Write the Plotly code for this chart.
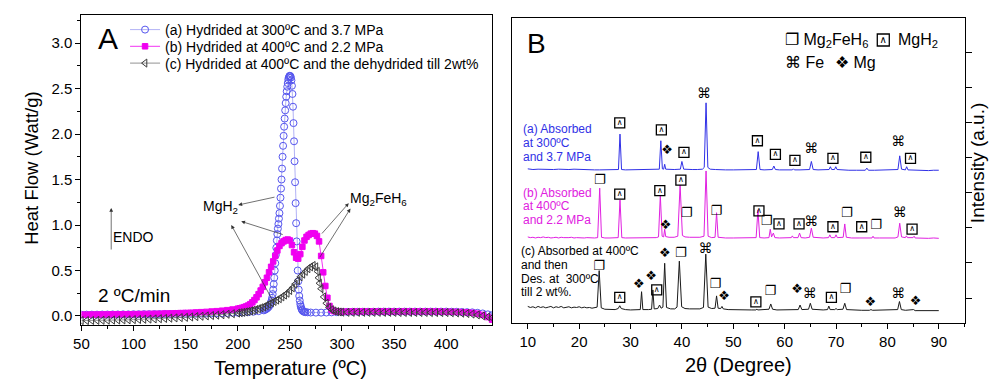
import plotly.graph_objects as go

W, H = 993, 380
FONT = "Liberation Sans, Arial, sans-serif"
SYMF = "DejaVu Sans, sans-serif"

# ---------------- Panel A : DSC (temperature, heat flow) ----------------
dsc_a = [(50,0.015),(55,0.015),(60,0.015),(65,0.015),(70,0.016),(75,0.016),(80,0.017),(85,0.017),(90,0.018),(95,0.018),
         (100,0.019),(105,0.019),(110,0.020),(115,0.020),(120,0.021),(125,0.021),(130,0.022),(135,0.022),(140,0.023),(145,0.023),
         (150,0.024),(155,0.025),(160,0.026),(165,0.027),(170,0.028),(175,0.029),(180,0.030),(185,0.031),(190,0.033),(195,0.035),
         (200,0.037),(205,0.040),(210,0.043),(215,0.047),(220,0.053),(225,0.062),(226,0.068),(227,0.074),(228,0.082),(229,0.092),
         (230,0.105),(231,0.125),(232,0.15),(232.5,0.17),(233,0.20),(233.5,0.24),(234,0.29),(234.5,0.35),(235,0.42),(235.5,0.50),
         (236,0.58),(236.5,0.67),(237,0.75),(237.5,0.83),(238,0.90),(238.5,0.96),(239,1.01),(239.5,1.07),(240,1.13),(240.5,1.21),
         (241,1.30),(241.5,1.40),(242,1.50),(242.5,1.62),(243,1.75),(243.5,1.87),(244,1.98),(244.5,2.08),(245,2.17),(245.5,2.26),
         (246,2.34),(246.5,2.41),(247,2.47),(247.5,2.52),(248,2.56),(248.5,2.60),(249,2.62),(249.5,2.635),(250,2.64),(250.5,2.635),
         (251,2.62),(251.5,2.59),(252,2.53),(252.5,2.44),(253,2.30),(253.5,2.12),(254,1.92),(254.5,1.70),(255,1.47),(255.5,1.24),
         (256,1.02),(256.5,0.82),(257,0.65),(257.5,0.50),(258,0.38),(258.5,0.29),(259,0.22),(259.5,0.17),(260,0.13),(260.5,0.105),
         (261,0.085),(261.5,0.07),(262,0.06),(263,0.05),(264,0.045),(265,0.042),(267,0.040),(270,0.038),(275,0.037),(280,0.037),
         (285,0.038),(290,0.040),(295,0.042),(300,0.044),(305,0.045),(310,0.046),(315,0.046),(320,0.047),(325,0.047),(330,0.047),
         (335,0.048),(340,0.048),(345,0.048),(350,0.048),(355,0.048),(360,0.048),(365,0.048),(370,0.048),(375,0.048),(380,0.048),
         (385,0.048),(390,0.048),(395,0.048),(400,0.048),(405,0.047),(410,0.046),(415,0.044),(420,0.042),(425,0.040),(430,0.035),
         (435,0.028),(440,0.018),(444,0.008)]

dsc_b = [(50,0.015),(55,0.015),(60,0.016),(65,0.016),(70,0.017),(75,0.017),(80,0.018),(85,0.018),(90,0.019),(95,0.019),
         (100,0.020),(105,0.021),(110,0.022),(115,0.023),(120,0.024),(125,0.025),(130,0.027),(135,0.028),(140,0.030),(145,0.032),
         (150,0.034),(155,0.036),(160,0.039),(165,0.042),(170,0.045),(175,0.049),(180,0.053),(185,0.058),(190,0.064),(195,0.071),
         (200,0.080),(202,0.085),(204,0.090),(206,0.097),(208,0.105),(210,0.115),(212,0.13),(214,0.15),(216,0.175),(218,0.205),
         (220,0.24),(222,0.28),(224,0.32),(226,0.37),(228,0.42),(230,0.48),(232,0.54),(234,0.60),(236,0.66),(238,0.72),
         (240,0.77),(242,0.80),(244,0.82),(246,0.835),(248,0.84),(250,0.83),(252,0.78),(254,0.70),(256,0.64),(258,0.63),
         (260,0.68),(262,0.76),(264,0.83),(266,0.87),(268,0.89),(270,0.905),(272,0.91),(274,0.905),(276,0.88),(278,0.82),
         (280,0.66),(282,0.48),(284,0.33),(286,0.20),(288,0.11),(290,0.07),(292,0.055),(294,0.050),(296,0.048),(298,0.047),
         (300,0.047),(305,0.048),(310,0.049),(315,0.049),(320,0.050),(325,0.050),(330,0.050),(335,0.050),(340,0.050),(345,0.050),
         (350,0.050),(355,0.050),(360,0.050),(365,0.050),(370,0.050),(375,0.050),(380,0.050),(385,0.049),(390,0.049),(395,0.048),
         (400,0.047),(405,0.046),(410,0.045),(415,0.043),(420,0.040),(425,0.035),(430,0.026),(435,0.012),(440,-0.012),(444,-0.040)]

dsc_c = [(50,-0.050),(55,-0.050),(60,-0.049),(65,-0.048),(70,-0.047),(75,-0.046),(80,-0.045),(85,-0.044),(90,-0.043),(95,-0.042),
         (100,-0.040),(105,-0.038),(110,-0.036),(115,-0.034),(120,-0.032),(125,-0.030),(130,-0.027),(135,-0.024),(140,-0.021),(145,-0.018),
         (150,-0.015),(155,-0.011),(160,-0.007),(165,-0.003),(170,0.001),(175,0.005),(180,0.009),(185,0.014),(190,0.019),(195,0.025),
         (200,0.032),(202.5,0.036),(205,0.040),(207.5,0.045),(210,0.050),(212.5,0.056),(215,0.063),(217.5,0.071),(220,0.080),(222.5,0.090),
         (225,0.100),(227.5,0.115),(230,0.130),(232.5,0.145),(235,0.160),(237.5,0.175),(240,0.190),(242.5,0.210),(245,0.230),(247.5,0.250),
         (250,0.280),(252.5,0.310),(255,0.350),(257.5,0.390),(260,0.430),(262.5,0.460),(265,0.490),(267.5,0.520),(270,0.540),(272.5,0.555),
         (275,0.540),(276.5,0.490),(277.5,0.420),(278.5,0.360),(280,0.300),(282.5,0.210),(285,0.140),(287.5,0.095),(290,0.070),(292.5,0.055),
         (295,0.048),(297.5,0.044),(300,0.042),(305,0.040),(310,0.040),(315,0.040),(320,0.040),(325,0.040),(330,0.040),(335,0.040),
         (340,0.040),(345,0.040),(350,0.040),(355,0.039),(360,0.039),(365,0.039),(370,0.039),(375,0.039),(380,0.039),(385,0.038),
         (390,0.038),(395,0.038),(400,0.038),(405,0.036),(410,0.034),(415,0.031),(420,0.027),(425,0.021),(430,0.012),(435,0.002),
         (440,-0.010),(444,-0.020)]

legend_a = "(a) Hydrided at 300ºC and 3.7 MPa"
legend_b = "(b) Hydrided at 400ºC and 2.2 MPa"
legend_c = "(c) Hydrided at 400ºC and the dehydrided till 2wt%"

# ---------------- Panel B : XRD (2theta, intensity a.u.) ----------------
xrd_a = [(10.0,4.68),(11,4.66),(12,4.67),(13,4.66),(14,4.67),(15,4.66),(16,4.67),(17,4.66),(18,4.66),(19,4.67),
         (20,4.66),(21,4.65),(22,4.66),(23,4.65),(24,4.65),(25,4.65),(26,4.65),(27,4.65),(27.65,4.66),(27.95,5.67),
         (28.25,4.66),(29,4.65),(30,4.65),(31,4.65),(32,4.65),(33,4.65),(34,4.65),(35,4.66),(35.6,4.67),(35.9,5.48),
         (36.2,4.68),(36.45,4.67),(36.65,4.81),(36.85,4.67),(37.5,4.66),(38.5,4.66),(39.7,4.67),(40.0,4.89),(40.35,4.67),(41,4.66),
         (42,4.66),(43,4.66),(44,4.67),(44.35,4.72),(44.7,6.56),(45.05,4.72),(45.5,4.67),(46.5,4.66),(47.5,4.65),(48.5,4.65),
         (50,4.65),(51.5,4.65),(53,4.65),(54.5,4.66),(54.85,5.17),(55.2,4.66),(56,4.65),(57.6,4.66),(57.9,4.76),(58.2,4.66),
         (59,4.65),(60.5,4.65),(61.5,4.65),(61.7,4.68),(61.9,4.65),(63,4.65),(64,4.65),(64.85,4.66),(65.2,4.89),(65.55,4.66),
         (66.5,4.65),(67.5,4.65),(68.65,4.66),(68.9,4.74),(69.15,4.66),(69.7,4.66),(69.95,4.74),(70.2,4.66),(71,4.65),(72.5,4.64),
         (74,4.64),(75.7,4.64),(76.0,4.70),(76.3,4.64),(77.5,4.64),(79,4.64),(80.5,4.64),(81.5,4.64),(82.05,4.66),(82.4,5.05),
         (82.75,4.67),(83.5,4.65),(83.75,4.74),(84.0,4.65),(85,4.64),(86,4.64),(87,4.64),(88,4.63),(89,4.64),(90,4.64)]

xrd_b = [(10.0,2.74),(10.5,2.72),(11,2.73),(11.5,2.71),(12,2.73),(12.5,2.72),(13,2.74),(13.5,2.72),(14,2.73),(14.5,2.71),
         (15,2.72),(15.5,2.73),(16,2.71),(16.5,2.73),(17,2.72),(17.5,2.71),(18,2.72),(18.5,2.73),(19,2.71),(19.5,2.72),
         (20,2.71),(20.5,2.72),(21,2.71),(21.5,2.72),(22,2.71),(22.5,2.71),(23,2.71),(23.6,2.72),(24.0,4.13),(24.35,2.73),
         (25,2.71),(26,2.71),(27,2.71),(27.6,2.72),(27.95,3.79),(28.3,2.72),(29,2.71),(30,2.71),(31,2.71),(32,2.71),
         (33,2.71),(34,2.72),(35,2.72),(35.45,2.74),(35.8,3.93),(36.15,2.76),(36.45,2.74),(36.65,2.96),(36.85,2.75),(37.5,2.73),
         (38.5,2.73),(39.2,2.76),(39.65,4.22),(40.1,2.78),(40.6,2.74),(41.5,2.73),(42.5,2.73),(43.5,2.73),(44.3,2.76),(44.7,4.62),
         (45.1,2.76),(45.8,2.72),(46.45,2.73),(46.75,3.43),(47.05,2.73),(47.6,2.72),(48.5,2.71),(50,2.71),(51.5,2.71),(53,2.71),
         (54.45,2.72),(54.8,3.51),(55.15,2.72),(56,2.71),(56.95,2.72),(57.2,2.96),(57.45,2.74),(57.8,2.85),(58.1,2.72),(59,2.71),
         (60.5,2.71),(61.3,2.72),(61.5,2.77),(61.7,2.72),(62.6,2.72),(62.9,2.85),(63.2,2.72),(64,2.71),(64.85,2.73),(65.2,2.99),
         (65.55,2.73),(66.5,2.71),(67.5,2.71),(68.55,2.72),(68.8,2.80),(69.05,2.72),(69.75,2.72),(70.0,2.80),(70.25,2.72),(71.4,2.73),
         (71.7,3.11),(72.0,2.73),(73,2.71),(74.5,2.71),(75.8,2.71),(76.0,2.73),(76.2,2.71),(77.0,2.71),(77.2,2.76),(77.4,2.71),
         (78.5,2.71),(80,2.71),(81.5,2.71),(82.05,2.74),(82.4,3.13),(82.75,2.74),(83.5,2.72),(83.7,2.77),(83.9,2.72),(85.0,2.72),
         (85.2,2.76),(85.4,2.71),(86.5,2.70),(88,2.70),(89,2.71),(90,2.70)]

xrd_c = [(10.0,0.76),(10.5,0.73),(11,0.75),(11.5,0.72),(12,0.76),(12.5,0.73),(13,0.75),(13.5,0.72),(14,0.74),(14.5,0.76),
         (15,0.72),(15.5,0.75),(16,0.73),(16.5,0.76),(17,0.72),(17.5,0.74),(18,0.75),(18.5,0.72),(19,0.74),(19.5,0.73),
         (20,0.75),(20.5,0.72),(21,0.74),(21.5,0.72),(22,0.73),(22.5,0.71),(23.0,0.72),(23.5,0.74),(23.9,1.78),(24.3,0.72),
         (25,0.68),(26,0.67),(27,0.67),(27.6,0.70),(27.9,0.78),(28.2,0.70),(29,0.67),(30,0.66),(31,0.66),(31.9,0.67),
         (32.15,1.18),(32.4,0.67),(33.5,0.67),(34.1,0.68),(34.35,1.23),(34.6,0.69),(35.3,0.70),(35.65,0.80),(35.95,0.71),(36.3,0.74),
         (36.65,1.99),(37.0,0.73),(37.8,0.69),(38.6,0.69),(39.05,0.74),(39.5,2.05),(39.95,0.75),(40.6,0.70),(41.5,0.69),(42.5,0.69),
         (43.5,0.69),(44.2,0.73),(44.65,2.25),(45.1,0.74),(45.8,0.70),(46.45,0.71),(46.75,1.06),(47.05,0.71),(47.55,0.70),(47.8,0.76),
         (48.05,0.69),(49,0.67),(50.5,0.66),(52,0.66),(53.5,0.66),(54.4,0.66),(54.6,0.68),(54.8,0.66),(56,0.66),(56.95,0.68),
         (57.3,0.83),(57.65,0.68),(58.5,0.66),(60,0.66),(61.5,0.66),(62.65,0.67),(63.0,0.80),(63.35,0.67),(64.65,0.68),(65.0,0.85),
         (65.35,0.68),(66.5,0.66),(67.5,0.66),(68.35,0.67),(68.6,0.77),(68.85,0.67),(69.75,0.67),(70.0,0.70),(70.25,0.67),(71.35,0.68),
         (71.7,0.85),(72.05,0.67),(73.5,0.65),(75,0.65),(76.5,0.65),(76.8,0.67),(77.1,0.65),(78.5,0.65),(80,0.65),(81.5,0.65),
         (82.0,0.67),(82.35,0.90),(82.7,0.67),(83.5,0.65),(84.8,0.65),(85.1,0.67),(85.4,0.64),(86.5,0.64),(88,0.64),(89,0.63),(90,0.64)]

# phase marker positions (2theta, intensity) for each phase symbol
mark_mg2feh6 = [(24.0,4.33),(40.9,3.41),(46.7,3.46),(56.5,3.17),(72.1,3.41),(77.8,3.05),
                (23.9,1.90),(39.8,2.25),(46.5,1.37),(57.2,1.18),(71.8,1.23)]
mark_mgh2 = [(27.9,5.99),(36.0,5.79),(40.4,5.15),(54.7,5.48),(58.2,5.09),(62.0,4.92),(69.4,4.98),(75.8,5.01),(84.5,4.98),
             (27.9,3.96),(35.7,4.06),(39.8,4.36),(55.0,3.48),(58.9,3.11),(62.8,3.11),(69.4,3.03),(75.0,3.03),(84.8,2.96),
             (27.9,1.02),(35.1,1.23),(54.4,0.89),(69.1,1.02)]
mark_fe = [(44.3,6.80),(65.2,5.22),(82.1,5.42),(65.2,3.16),(82.4,3.41),(44.6,2.39),(64.9,1.11),(82.1,1.09)]
mark_mg = [(37.1,5.20),(36.8,3.05),(31.6,1.37),(34.0,1.61),(36.7,2.25),(48.2,1.04),(62.4,1.23),(76.7,0.87),(85.5,0.89)]
key_mgh2 = [(79.2,8.35)]   # legend key of the MgH2 symbol in panel B

SYM_MG2FEH6, SYM_CARET, SYM_FE, SYM_MG = "❐", "∧", "⌘", "❖"

C_A, C_A_LINE = "#5555ee", "#9d9df2"
C_B = "#f000f0"
C_C = "#3a3a3a"
X_A, X_B, X_C = "#3030e6", "#e020e0", "#1a1a1a"


def px(xp):
    return xp / W


def py(yp):
    return 1 - yp / H


fig = go.Figure()

for data, name, color, lcolor, sym, leg, size in [
    (dsc_a, legend_a, C_A, C_A_LINE, "circle-open", "legend", 7),
    (dsc_b, legend_b, C_B, C_B, "square", "legend2", 5.5),
    (dsc_c, legend_c, C_C, "#777777", "triangle-left-open", "legend3", 7),
]:
    t, v = zip(*data)
    fig.add_trace(go.Scatter(
        x=list(t), y=list(v), mode="lines+markers", name=name, legend=leg,
        line=dict(color=lcolor, width=0.8),
        marker=dict(symbol=sym, size=size, color=color, line=dict(color=color, width=1)),
        xaxis="x", yaxis="y"))

for data, color in [(xrd_a, X_A), (xrd_b, X_B), (xrd_c, X_C)]:
    t, v = zip(*data)
    fig.add_trace(go.Scatter(x=list(t), y=list(v), mode="lines", showlegend=False,
                             line=dict(color=color, width=1), xaxis="x2", yaxis="y2"))

# MgH2 labels: open box with a caret inside
for pts, msize, fsize in ((mark_mgh2, 10, 8), (key_mgh2, 12, 10)):
    t, v = zip(*pts)
    fig.add_trace(go.Scatter(x=list(t), y=list(v), mode="markers+text", text=[SYM_CARET] * len(t),
                             textposition="middle center", showlegend=False, hoverinfo="skip",
                             marker=dict(symbol="square-open", size=msize,
                                         color="black", line=dict(color="black", width=1.3)),
                             textfont=dict(size=fsize, color="black", family=SYMF),
                             xaxis="x2", yaxis="y2"))

for pts, sym, fs in [(mark_mg2feh6, SYM_MG2FEH6, 13), (mark_fe, SYM_FE, 14), (mark_mg, SYM_MG, 13)]:
    t, v = zip(*pts)
    fig.add_trace(go.Scatter(x=list(t), y=list(v), mode="text", text=[sym] * len(t),
                             textposition="middle center", showlegend=False, hoverinfo="skip",
                             textfont=dict(size=fs, color="black", family=SYMF),
                             xaxis="x2", yaxis="y2"))

axis_common = dict(showgrid=False, zeroline=False, showline=True, linecolor="black", linewidth=1,
                   tickcolor="black", tickwidth=1, tickfont=dict(size=15, family=FONT, color="black"))

YR_A = [-0.099, 3.308]
fig.update_layout(
    width=W, height=H, margin=dict(l=0, r=0, t=0, b=0),
    paper_bgcolor="white", plot_bgcolor="white",
    font=dict(family=FONT, color="black"),
    xaxis=dict(domain=[px(74), px(488)], range=[50, 444], anchor="y", tick0=50, dtick=50,
               ticks="outside", ticklen=5, mirror=True,
               minor=dict(ticks="outside", ticklen=3, tick0=50, dtick=25, tickcolor="black"), **axis_common),
    yaxis=dict(domain=[py(325), py(15)], range=YR_A, anchor="x", tick0=0, dtick=0.5, tickformat=".1f",
               ticks="outside", ticklen=5, mirror=True,
               minor=dict(ticks="outside", ticklen=3, tick0=0, dtick=0.25, tickcolor="black"), **axis_common),
    yaxis3=dict(overlaying="y", anchor="x", side="right", range=YR_A, tick0=0, dtick=0.5,
                ticks="inside", ticklen=5, showticklabels=False, showgrid=False, zeroline=False,
                showline=False, tickcolor="black",
                minor=dict(ticks="inside", ticklen=3, tick0=0, dtick=0.25, tickcolor="black")),
    xaxis2=dict(domain=[px(508), px(965)], range=[6.91, 95.15], anchor="y2", tick0=10, dtick=10,
                ticks="outside", ticklen=5, mirror=True,
                minor=dict(ticks="outside", ticklen=3, tick0=10, dtick=5, tickcolor="black"), **axis_common),
    yaxis2=dict(domain=[py(323), py(18)], range=[0.288, 8.977], anchor="x2", side="right", tick0=0, dtick=1,
                ticks="outside", ticklen=6, showticklabels=False, mirror=True, **axis_common),
)

leg_common = dict(xanchor="left", yanchor="middle", bgcolor="rgba(0,0,0,0)", borderwidth=0,
                  font=dict(size=14, family=FONT, color="black"), itemwidth=30)
fig.update_layout(
    legend=dict(x=px(118), y=py(30), **leg_common),
    legend2=dict(x=px(118), y=py(46.7), **leg_common),
    legend3=dict(x=px(118), y=py(63.5), **leg_common),
)

ann = []


def text(xp, yp, s, size, color="black", xanchor="center", angle=0, family=FONT):
    ann.append(dict(x=px(xp), y=py(yp), xref="paper", yref="paper", text=s, showarrow=False,
                    xanchor=xanchor, yanchor="middle", textangle=angle,
                    font=dict(size=size, color=color, family=family)))


# panel A texts
text(101, 39, "A", 30)
text(23, 168, "Heat Flow (Watt/g)", 18.5, angle=-90)
text(285, 368, "Temperature (ºC)", 20)
text(214.5, 207, "MgH<sub>2</sub>", 14)
text(374, 199, "Mg<sub>2</sub>FeH<sub>6</sub>", 14)
text(127, 237, "ENDO", 14)
text(127.5, 295, "2 ºC/min", 19)

# panel A arrows (tail -> head, data coordinates)
arrows = [((236.7, 1.31), (200.5, 1.22)), ((244.6, 0.89), (203.3, 1.04)), ((235.0, 0.14), (193.8, 1.0)),
          ((279.5, 0.89), (306.5, 1.24)), ((277.9, 0.63), (308.1, 1.18)), ((78.6, 0.714), (78.6, 1.187))]
for (tx, ty), (hx, hy) in arrows:
    ann.append(dict(x=hx, y=hy, ax=tx, ay=ty, xref="x", yref="y", axref="x", ayref="y", text="",
                    showarrow=True, arrowhead=2, arrowsize=1.1, arrowwidth=0.7, arrowcolor="#333333"))

# panel B texts
text(533, 43, "B", 28)
text(736, 365, "2θ (Degree)", 20)
text(977, 163, "Intensity (a.u.)", 19, angle=-90)
text(781, 40, SYM_MG2FEH6 + " Mg<sub>2</sub>FeH<sub>6</sub>", 16, xanchor="left")
text(895, 40, "MgH<sub>2</sub>", 16, xanchor="left")
text(781, 63, SYM_FE + " Fe", 16, xanchor="left")
text(832, 63, SYM_MG + " Mg", 16, xanchor="left")
for i, s in enumerate(["(a) Absorbed", "at 300ºC", "and 3.7 MPa"]):
    text(517, 128.5 + 14 * i, s, 12, color=X_A, xanchor="left")
for i, s in enumerate(["(b) Absorbed", "at 400ºC", "and 2.2 MPa"]):
    text(517, 192.7 + 13.7 * i, s, 12, color=X_B, xanchor="left")
for i, s in enumerate(["(c) Absorbed at 400ºC", "and then", "Des. at  300ºC", "till 2 wt%."]):
    text(515, 250.7 + 13.9 * i, s, 12, color="black", xanchor="left")

fig.update_layout(annotations=ann)
fig.write_html("out.html")
